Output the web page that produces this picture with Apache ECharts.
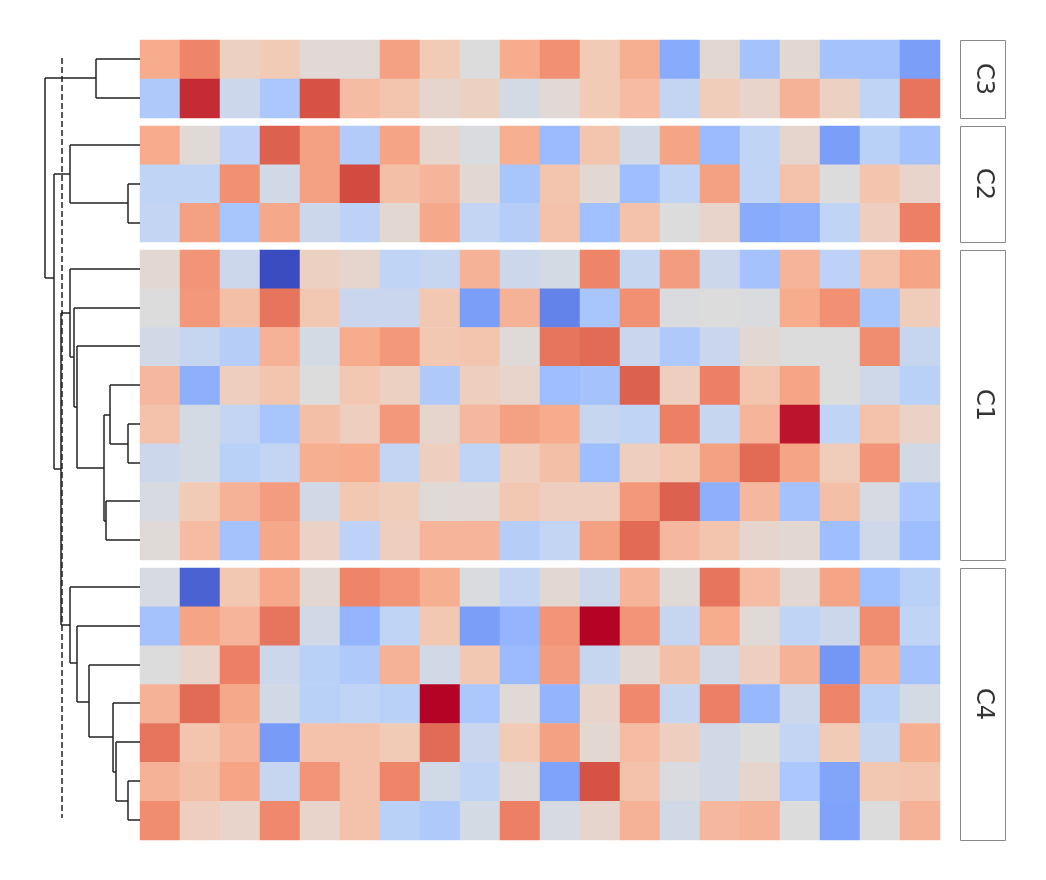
<!DOCTYPE html>
<html>
<head>
<meta charset="utf-8">
<script src="https://cdn.jsdelivr.net/npm/echarts@6/dist/echarts.min.js"></script>
<style>html,body{margin:0;background:#fff}#main{width:1046px;height:880px}</style>
</head>
<body>
<div id="main"></div>
<script>
// Row-cluster heatmap with dendrogram

const GROUPS = ['C3', 'C2', 'C1', 'C4'];

const C3_ROWS = [
  [2, 3, 0.7, 1, 0.2, 0.2, 2.3, 1, 0, 2, 2.7, 1, 1.9, -2.6, 0.3, -1.8, 0.3, -1.8, -1.8, -3],
  [-1.5, 4.5, -0.6, -1.6, 4, 1.5, 1.2, 0.4, 0.7, -0.3, 0.2, 1, 1.5, -0.9, 0.9, 0.5, 1.8, 0.7, -1, 3.3],
];
const C2_ROWS = [
  [2, 0.2, -1.1, 3.7, 2.3, -1.4, 2.2, 0.4, -0.1, 1.9, -2.1, 1.2, -0.4, 2.2, -2.1, -1, 0.4, -3, -1.2, -1.8],
  [-1, -1, 2.7, -0.4, 2.3, 4.1, 1.4, 1.7, 0.3, -1.7, 1.2, 0.3, -2, -1, 2.3, -1, 1.3, 0, 1.2, 0.5],
  [-0.9, 2.3, -1.7, 2.1, -0.6, -1.1, 0.3, 2.1, -0.9, -1.3, 1.3, -1.9, 1.3, 0, 0.5, -2.6, -2.5, -1, 0.8, 3.1],
];
const C1_ROWS = [
  [0.3, 2.6, -0.6, -5, 0.7, 0.4, -1, -0.8, 1.8, -0.6, -0.3, 3, -0.8, 2.4, -0.6, -1.8, 1.7, -1.1, 1.3, 2.2],
  [0, 2.5, 1.4, 3.3, 1.1, -0.7, -0.7, 1.1, -3, 1.8, -3.7, -1.7, 2.7, -0.1, 0, -0.1, 2, 2.7, -1.7, 0.9],
  [-0.4, -0.8, -1.3, 1.8, -0.3, 2, 2.5, 1.1, 1.2, 0.1, 3.3, 3.5, -0.7, -1.5, -0.7, 0.3, 0, 0, 2.8, -0.8],
  [1.6, -2.5, 0.8, 1.2, 0, 1.1, 0.7, -1.5, 0.8, 0.5, -2, -1.8, 3.7, 0.8, 3.1, 1.2, 2.2, 0, -0.5, -1.2],
  [1.3, -0.3, -0.9, -1.7, 1.4, 0.8, 2.5, 0.4, 1.6, 2.3, 2, -0.8, -1, 3.1, -0.8, 1.7, 4.8, -1, 1.3, 0.6],
  [-0.6, -0.3, -1.2, -0.9, 1.9, 2, -0.9, 0.8, -1, 0.8, 1.4, -2, 0.8, 1.1, 2.3, 3.5, 2.2, 0.9, 2.6, -0.4],
  [-0.2, 1, 1.8, 2.4, -0.4, 1.1, 0.9, 0.1, 0.2, 1.1, 0.8, 0.8, 2.5, 3.7, -2.5, 1.6, -1.8, 1.4, -0.2, -1.6],
  [0.1, 1.5, -1.8, 2.1, 0.6, -1.1, 0.8, 1.7, 1.7, -1.3, -0.9, 2.3, 3.5, 1.6, 1.2, 0.4, 0.3, -2, -0.5, -2],
];
const C4_ROWS = [
  [-0.2, -4.5, 1.1, 2.1, 0.3, 3, 2.6, 1.9, -0.1, -0.9, 0.3, -0.6, 1.7, 0.2, 3.3, 1.5, 0.3, 2.2, -1.9, -1.2],
  [-1.8, 2.2, 1.7, 3.3, -0.4, -2.3, -1, 1.1, -3, -2.3, 2.6, 5, 2.6, -0.8, 2, 0.2, -1, -0.6, 2.8, -1],
  [0, 0.5, 3.1, -0.6, -1.2, -1.5, 1.8, -0.4, 1.1, -2.1, 2.4, -0.8, 0.3, 1.4, -0.4, 0.8, 1.8, -3.2, 1.9, -1.8],
  [1.8, 3.5, 2.1, -0.4, -1.2, -1, -1.2, 5, -1.6, 0.2, -2.3, 0.5, 2.9, -0.8, 3.1, -2.2, -0.6, 3, -1.2, -0.3],
  [3.3, 1.2, 1.7, -3.1, 1.3, 1.3, 1, 3.5, -0.7, 1, 2.3, 0.3, 1.5, 0.8, -0.4, 0, -0.9, 1, -0.8, 1.9],
  [1.8, 1.4, 2.2, -0.8, 2.6, 1.3, 3, -0.4, -1, 0.2, -2.9, 4, 1.3, -0.1, -0.4, 0.4, -1.6, -2.8, 1.1, 1.2],
  [2.8, 0.8, 0.5, 2.9, 0.5, 1.3, -1.2, -1.5, -0.3, 3.1, -0.2, 0.4, 1.8, -0.4, 1.6, 1.8, 0, -2.9, 0, 1.8],
];

// dendrogram links: [joinHeight, topLeafY, bottomLeafY, topChildHeight, bottomChildHeight]
const LINKS = [
  [96, 59, 98, 140, 140],
  [128, 184, 223, 140, 140], [70, 145, 203, 140, 128],
  [128, 424, 463, 140, 140], [110, 385, 444, 140, 128], [106, 501, 540, 140, 140],
  [104, 415, 521, 110, 106], [77, 346, 468, 140, 104], [74, 308, 407, 140, 77],
  [70, 269, 357, 140, 74],
  [128, 781, 820, 140, 140], [116, 742, 801, 140, 128], [113, 703, 772, 140, 116],
  [89, 665, 737, 140, 113], [77, 626, 702, 140, 89], [70, 587, 663, 140, 77],
  [61, 313, 625, 70, 70], [54, 174, 469, 70, 61], [45, 78, 278, 96, 54],
];
const CUT_HEIGHT = 62;

const COOLWARM = ['#3b4cc0', '#5977e3', '#7b9ff9', '#9ebeff', '#c0d4f5', '#dddcdc',
  '#f2cbb7', '#f7ac8e', '#ee8468', '#d65244', '#b40426'];

const groupRows = [C3_ROWS, C2_ROWS, C1_ROWS, C4_ROWS];
const boxes = [[40, 78], [126, 116], [250, 310], [568, 272]];
const cols = C3_ROWS[0].map((_, i) => 'V' + (i + 1));

const grid = [], xAxis = [], yAxis = [], series = [];
groupRows.forEach((rows, g) => {
  grid.push({ left: 140, width: 800, top: boxes[g][0], height: boxes[g][1] });
  xAxis.push({ type: 'category', gridIndex: g, data: cols, show: false });
  yAxis.push({ type: 'category', gridIndex: g, data: rows.map((_, i) => i), inverse: true, show: false });
  const data = [];
  rows.forEach((r, y) => r.forEach((v, x) => data.push([x, y, v])));
  series.push({ type: 'heatmap', xAxisIndex: g, yAxisIndex: g, data, itemStyle: { borderWidth: 0 } });
});

// dendrogram panel
grid.push({ left: 0, width: 140, top: 40, height: 800 });
xAxis.push({ type: 'value', gridIndex: 4, min: 0, max: 140, show: false });
yAxis.push({ type: 'value', gridIndex: 4, min: 40, max: 840, inverse: true, show: false });
const segs = [];
LINKS.forEach(([h, y1, y2, h1, h2]) => {
  segs.push({ coords: [[h1, y1], [h, y1]] });
  segs.push({ coords: [[h, y1], [h, y2]] });
  segs.push({ coords: [[h2, y2], [h, y2]] });
});
series.push({
  type: 'lines', coordinateSystem: 'cartesian2d', xAxisIndex: 4, yAxisIndex: 4,
  data: segs, lineStyle: { color: '#222', width: 1.5, opacity: 1 }, silent: true,
});
series.push({
  type: 'line', xAxisIndex: 4, yAxisIndex: 4, symbol: 'none', silent: true,
  data: [[CUT_HEIGHT, 58], [CUT_HEIGHT, 818]],
  lineStyle: { color: '#222', width: 1.5, type: [6, 3] },
});

// group label boxes
const graphic = [];
GROUPS.forEach((name, g) => {
  const [top, h] = boxes[g];
  graphic.push({ type: 'rect', shape: { x: 960.5, y: top + 0.5, width: 45, height: h },
    style: { fill: '#fff', stroke: '#888', lineWidth: 1 } });
  graphic.push({ type: 'text', x: 983, y: top + h / 2, rotation: -Math.PI / 2,
    style: { text: name, fill: '#333', font: '24px "DejaVu Sans"', align: 'center', verticalAlign: 'middle' } });
});

const chart = echarts.init(document.getElementById('main'));
chart.setOption({
  animation: false,
  grid, xAxis, yAxis, series, graphic,
  visualMap: { show: false, min: -5, max: 5, seriesIndex: [0, 1, 2, 3], inRange: { color: COOLWARM } },
});
</script>
</body>
</html>
